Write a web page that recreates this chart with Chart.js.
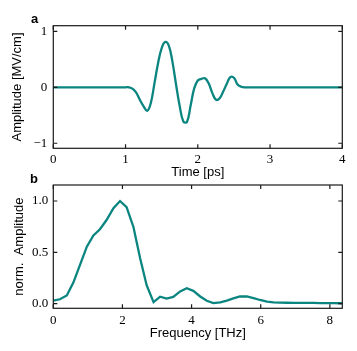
<!DOCTYPE html>
<html>
<head>
<meta charset="utf-8">
<script src="https://cdn.jsdelivr.net/npm/chart.js@4.4.0/dist/chart.umd.min.js"></script>
<style>
  html, body { margin: 0; padding: 0; background: #fff; }
  #wrap { position: relative; width: 357px; height: 351px; overflow: hidden; }
  canvas { position: absolute; left: 0; }
  #timeChart { top: 0; }
  #specChart { top: 170px; }
  .panel-label {
    position: absolute;
    font: bold 13px "Liberation Sans", Arial, sans-serif;
    line-height: 1;
    color: #000;
  }
</style>
</head>
<body>
<div id="wrap">
  <canvas id="timeChart" width="357" height="185"></canvas>
  <canvas id="specChart" width="357" height="181"></canvas>
  <div class="panel-label" style="left:31px; top:11.5px">a</div>
  <div class="panel-label" style="left:30px; top:172px">b</div>
</div>

<script>
// Panel a: THz field in time domain
const timePs = [0, 0.5, 1.0, 1.05, 1.10, 1.15, 1.20, 1.25, 1.30, 1.35, 1.40, 1.45, 1.50,
  1.55, 1.60, 1.65, 1.70, 1.75, 1.80, 1.85, 1.90, 1.95, 2.00, 2.05, 2.10, 2.15, 2.20,
  2.25, 2.30, 2.35, 2.40, 2.45, 2.50, 2.55, 2.60, 2.65, 3.0, 3.5, 4.0];
const fieldMVcm = [0, 0, 0, 0, -0.03, -0.10, -0.23, -0.34, -0.42, -0.28, 0.07, 0.43, 0.70,
  0.81, 0.74, 0.45, 0.04, -0.34, -0.61, -0.62, -0.33, -0.02, 0.12, 0.15, 0.16, 0.07, -0.10,
  -0.22, -0.20, -0.08, 0.06, 0.18, 0.17, 0.05, 0.01, 0, 0, 0, 0];
const timeTicks = [0, 1, 2, 3, 4];
const fieldTicks = [-1, 0, 1];

// Panel b: normalised spectrum
const freqTHz = [0.00, 0.19, 0.39, 0.58, 0.77, 0.97, 1.16, 1.35, 1.54, 1.74, 1.93, 2.12,
  2.32, 2.51, 2.70, 2.90, 3.09, 3.28, 3.47, 3.67, 3.86, 4.05, 4.25, 4.44, 4.63, 4.83, 5.02,
  5.21, 5.40, 5.60, 5.79, 5.98, 6.18, 6.37, 6.56, 6.76, 6.95, 7.14, 7.33, 7.53, 7.72, 7.91,
  8.11, 8.30, 8.49];
const spectrumNorm = [0.030, 0.043, 0.080, 0.205, 0.375, 0.555, 0.665, 0.725, 0.815, 0.930,
  1.000, 0.940, 0.745, 0.445, 0.180, 0.015, 0.068, 0.050, 0.066, 0.120, 0.150, 0.125, 0.070,
  0.028, 0.006, 0.012, 0.030, 0.052, 0.070, 0.072, 0.055, 0.036, 0.020, 0.013, 0.010, 0.009,
  0.008, 0.008, 0.007, 0.007, 0.006, 0.006, 0.005, 0.004, 0.003];
const freqTicks = [0, 2, 4, 6, 8];
const specTicks = [0, 0.5, 1.0];

const LINE_COLOR = '#0b8580';
const SERIF = '"Liberation Serif", "Times New Roman", serif';
const SANS = '"Liberation Sans", Arial, sans-serif';

// matplotlib-style frame with inward ticks on all four sides
const frameTicks = {
  id: 'frameTicks',
  afterDatasetsDraw(chart) {
    const { ctx, chartArea: a, scales: { x, y } } = chart;
    const len = 4;
    ctx.save();
    ctx.strokeStyle = '#1a1a1a';
    ctx.lineWidth = 1.2;
    ctx.strokeRect(a.left, a.top, a.right - a.left, a.bottom - a.top);
    ctx.beginPath();
    x.ticks.forEach((t) => {
      const px = x.getPixelForValue(t.value);
      ctx.moveTo(px, a.bottom); ctx.lineTo(px, a.bottom - len);
      ctx.moveTo(px, a.top); ctx.lineTo(px, a.top + len);
    });
    y.ticks.forEach((t) => {
      const py = y.getPixelForValue(t.value);
      ctx.moveTo(a.left, py); ctx.lineTo(a.left + len, py);
      ctx.moveTo(a.right, py); ctx.lineTo(a.right - len, py);
    });
    ctx.stroke();
    ctx.restore();
  },
};

function toPoints(xs, ys) {
  return xs.map((v, i) => ({ x: v, y: ys[i] }));
}

function makePanel(canvasId, cfg) {
  return new Chart(document.getElementById(canvasId), {
    type: 'line',
    data: {
      datasets: [{
        data: toPoints(cfg.xs, cfg.ys),
        borderColor: LINE_COLOR,
        borderWidth: 2.3,
        pointRadius: 0,
        tension: cfg.tension,
        fill: false,
      }],
    },
    options: {
      responsive: false,
      animation: false,
      events: [],
      layout: { padding: { top: cfg.padTop, right: 14.7, left: 0, bottom: 0 } },
      plugins: { legend: { display: false }, tooltip: { enabled: false } },
      scales: {
        x: {
          type: 'linear',
          min: cfg.xMin, max: cfg.xMax,
          afterFit: (s) => { s.height = cfg.xHeight; },
          afterBuildTicks: (s) => { s.ticks = cfg.xTicks.map((v) => ({ value: v })); },
          grid: { display: false, drawTicks: false },
          border: { display: false },
          ticks: {
            padding: cfg.xTickPad,
            color: '#000',
            font: { family: SERIF, size: 13 },
            maxRotation: 0,
            callback: (v) => String(v),
          },
          title: {
            display: true, text: cfg.xTitle, color: '#000',
            font: { family: SANS, size: 13 },
            padding: { top: 0, bottom: cfg.xTitlePad },
          },
        },
        y: {
          type: 'linear',
          min: cfg.yMin, max: cfg.yMax,
          afterFit: (s) => { s.width = 53.3; },
          afterBuildTicks: (s) => { s.ticks = cfg.yTicks.map((v) => ({ value: v })); },
          grid: { display: false, drawTicks: false },
          border: { display: false },
          ticks: {
            padding: cfg.yTickPad,
            color: '#000',
            font: { family: SERIF, size: 13 },
            callback: cfg.yFormat,
          },
          title: {
            display: true, text: cfg.yTitle, color: '#000',
            font: { family: SANS, size: 13 },
            padding: { top: cfg.yTitlePad, bottom: 0 },
          },
        },
      },
    },
    plugins: [frameTicks],
  });
}

makePanel('timeChart', {
  xs: timePs, ys: fieldMVcm, tension: 0.4,
  xMin: 0, xMax: 4, yMin: -1.09, yMax: 1.1,
  xTicks: timeTicks, yTicks: fieldTicks,
  padTop: 25.7, xHeight: 36.7,
  xTickPad: 3, xTitlePad: 4.7, yTickPad: 6, yTitlePad: 9.2,
  xTitle: 'Time [ps]', yTitle: 'Amplitude [MV/cm]',
  yFormat: (v) => (v < 0 ? '\u2212' + Math.abs(v) : String(v)),
});

makePanel('specChart', {
  xs: freqTHz, ys: spectrumNorm, tension: 0,
  xMin: 0, xMax: 8.36, yMin: -0.045, yMax: 1.156,
  xTicks: freqTicks, yTicks: specTicks,
  padTop: 15, xHeight: 42.7,
  xTickPad: 4, xTitlePad: 10.2, yTickPad: 5, yTitlePad: 11.2,
  xTitle: 'Frequency [THz]', yTitle: 'norm.  Amplitude',
  yFormat: (v) => Number(v).toFixed(1),
});
</script>
</body>
</html>
